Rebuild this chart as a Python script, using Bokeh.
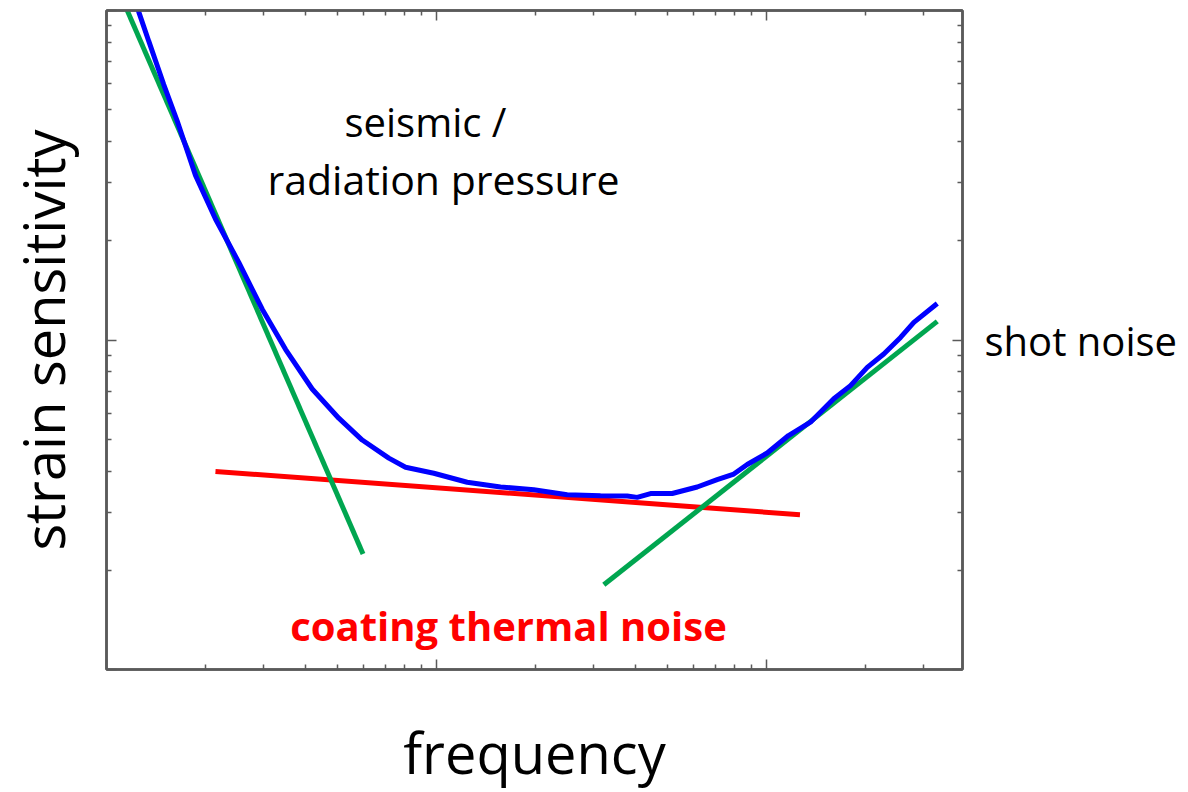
from bokeh.plotting import figure
from bokeh.models import Label, LogAxis, FixedTicker, CustomJSTickFormatter
from bokeh.embed import file_html
from bokeh.resources import INLINE

# ---- data (frequency, strain sensitivity; arbitrary log-log units) ----
total_freq = [1.216, 1.253, 1.343, 1.491, 1.638, 1.861, 2.139, 2.517, 2.964, 3.487,
              4.201, 5.057, 5.956, 7.171, 8.056, 9.813, 12.39, 15.63, 19.72, 24.89,
              31.41, 37.84, 40.57, 44.52, 51.80, 61.66, 70.88, 79.60, 87.42, 100.5,
              116.6, 135.9, 159.9, 179.7, 202.0, 226.7, 254.8, 279.6, 329.2]
total_strain = [110.5, 98.9, 80.7, 59.6, 46.2, 31.6, 23.3, 17.2, 12.4, 9.37,
                7.10, 5.79, 4.97, 4.38, 4.11, 3.94, 3.70, 3.58, 3.51, 3.39,
                3.37, 3.36, 3.33, 3.42, 3.42, 3.58, 3.77, 3.92, 4.19, 4.54,
                5.13, 5.63, 6.63, 7.27, 8.26, 9.07, 10.18, 11.31, 12.91]

seismic_freq = [1.155, 5.989]
seismic_strain = [100.1, 2.243]

shot_freq = [32.14, 329.2]
shot_strain = [1.807, 11.39]

coating_freq = [2.139, 126.3]
coating_strain = [3.99, 2.95]

x_major_ticks = [1, 10, 100]
x_minor_ticks = [2, 3, 4, 5, 6, 7, 8, 9, 20, 30, 40, 50, 60, 70, 80, 90, 200, 300]
y_major_ticks = [1, 10, 100]
y_minor_ticks = [2, 3, 4, 5, 6, 7, 8, 9, 20, 30, 40, 50, 60, 70, 80, 90]

FONT = "Open Sans"
FRAME = "#5a5a5a"

p = figure(width=1188, height=792, x_axis_type="log", y_axis_type="log",
           x_range=(1, 392.6), y_range=(1, 100),
           output_backend="svg", toolbar_location=None,
           min_border_left=106, min_border_right=226,
           min_border_top=10, min_border_bottom=122)
p.background_fill_color = "white"
p.border_fill_color = "white"
p.outline_line_color = FRAME
p.outline_line_width = 2.5
p.xgrid.visible = False
p.ygrid.visible = False

blank = CustomJSTickFormatter(code="return ''")

def style_axis(ax, major, minor):
    ax.ticker = FixedTicker(ticks=major, minor_ticks=minor)
    ax.formatter = blank
    ax.major_label_text_font_size = "1px"
    ax.major_label_standoff = 0
    ax.axis_line_color = FRAME
    ax.axis_line_width = 2.5
    ax.major_tick_in = 10
    ax.major_tick_out = 0
    ax.minor_tick_in = 5
    ax.minor_tick_out = 0
    ax.major_tick_line_color = FRAME
    ax.minor_tick_line_color = FRAME
    ax.major_tick_line_width = 1.5
    ax.minor_tick_line_width = 1.5
    ax.axis_label_text_font = FONT
    ax.axis_label_text_font_style = "normal"
    ax.axis_label_text_color = "black"

bottom_ax = p.xaxis[0]
style_axis(bottom_ax, x_major_ticks, x_minor_ticks)
bottom_ax.axis_label = "frequency"
bottom_ax.axis_label_text_font_size = "56px"
bottom_ax.axis_label_standoff = 44

left_ax = p.yaxis[0]
style_axis(left_ax, y_major_ticks, y_minor_ticks)
left_ax.axis_label = "strain sensitivity"
left_ax.axis_label_text_font_size = "56px"
left_ax.axis_label_standoff = 26

top_ax = LogAxis()
style_axis(top_ax, x_major_ticks, x_minor_ticks)
p.add_layout(top_ax, "above")

right_ax = LogAxis()
style_axis(right_ax, y_major_ticks, y_minor_ticks)
right_ax.axis_label = "shot noise"
right_ax.axis_label_orientation = "horizontal"
right_ax.axis_label_text_font_size = "40px"
right_ax.axis_label_standoff = 22
p.add_layout(right_ax, "right")

# lines
p.line(coating_freq, coating_strain, line_color="#ff0000", line_width=5)
p.line(seismic_freq, seismic_strain, line_color="#00a650", line_width=5)
p.line(shot_freq, shot_strain, line_color="#00a650", line_width=5)
p.line(total_freq, total_strain, line_color="#0000ff", line_width=5)

def add_label(x, y, text, size, color="black", bold=False):
    p.add_layout(Label(x=x, y=y, text=text, text_font=FONT, text_font_size=size,
                       text_color=color, text_align="center", text_baseline="middle",
                       text_font_style="bold" if bold else "normal"))

add_label(9.26, 46.2, "seismic /", "40px")
add_label(10.50, 30.8, "radiation pressure", "41px")
add_label(16.53, 1.362, "coating thermal noise", "40px", color="#ff0000", bold=True)

open("out.html", "w").write(file_html(p, INLINE))
